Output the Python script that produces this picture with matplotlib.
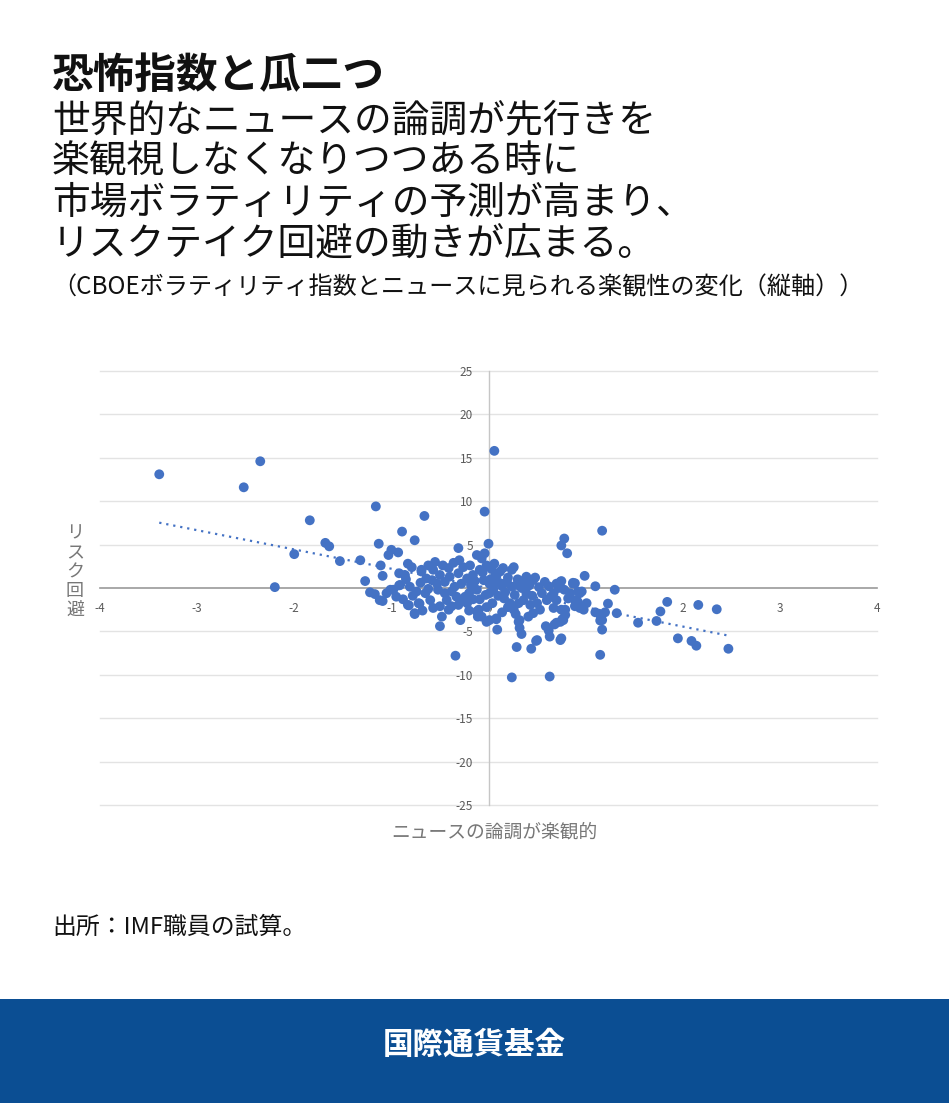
import numpy as np
import matplotlib
matplotlib.use("Agg")
import matplotlib.pyplot as plt

plt.rcParams["font.family"] = ["Noto Sans CJK JP", "DejaVu Sans"]
plt.rcParams["axes.unicode_minus"] = False

# 横軸: ニュースの論調が楽観的, 縦軸: リスク回避 (値は図から読み取り)
puntos = [
    # 外れ値・まばらな点
    (-3.39, 13.1), (-2.52, 11.6), (-2.35, 14.6), (-2.20, 0.1), (-2.00, 3.9),
    (-1.84, 7.8), (-1.68, 5.2), (-1.64, 4.8), (-1.53, 3.1), (-1.32, 3.2),
    (-1.27, 0.8), (-1.22, -0.5), (-1.17, -0.7), (-1.16, 9.4), (-1.13, 5.1),
    (-1.11, 2.6), (-1.09, 1.4), (-1.09, -1.5), (-1.03, 3.8), (-1.00, 4.4),
    (-0.93, 4.1), (-1.01, -0.2), (-0.89, 6.5), (-0.92, 1.7), (-0.86, 1.5),
    (-0.92, 0.3), (-0.82, -2.0), (-0.79, 2.4), (-0.76, 5.5), (-0.76, -3.0),
    (-0.71, -1.8), (-0.66, 8.3), (-0.69, 2.1), (-0.50, -4.4), (-0.31, 4.6),
    (-0.29, -3.7), (-0.04, 8.8), (0.00, 5.1), (-0.12, 3.8), (-0.07, 3.4),
    (-0.04, 4.0), (-0.30, 3.2), (0.06, 2.8), (0.06, 15.8),
    # 右側
    (1.17, 6.6), (0.78, 5.7), (0.75, 4.9), (0.81, 4.0), (0.26, 2.4),
    (0.24, 2.1), (0.15, 2.3), (0.12, 1.9), (0.99, 1.4), (1.10, 0.2),
    (1.30, -0.2), (0.39, 1.3), (0.48, 1.2), (0.58, 0.7), (0.74, 0.7),
    (0.87, 0.6), (1.23, -1.8), (1.10, -2.8), (1.15, -3.1), (1.20, -2.8),
    (1.15, -3.75), (1.17, -4.8), (1.15, -7.7), (1.54, -4.0), (1.73, -3.8),
    (1.77, -2.7), (1.84, -1.6), (2.16, -1.95), (2.35, -2.45), (1.95, -5.8),
    (2.09, -6.1), (2.14, -6.65), (2.47, -7.0), (0.74, -6.0), (0.77, -3.7),
    (0.79, -2.5), (0.87, 0.5), (0.92, -0.4), (0.96, -0.4), (0.89, -2.1),
    (0.98, -2.5), (0.92, -1.6),
    # 下側
    (-0.34, -7.8), (-0.02, -3.9), (0.08, -3.6), (0.09, -4.8), (0.24, -10.3),
    (0.63, -10.2), (0.29, -6.8), (0.44, -7.0), (0.49, -6.1), (0.31, -3.9),
    (0.32, -4.6), (0.34, -5.3), (0.59, -4.4), (0.62, -4.9), (0.63, -5.6),
    (0.70, -4.0), (0.76, -3.6), (-0.11, -3.3), (-0.10, -2.5), (-0.41, -2.5),
    (-0.50, -2.1),
    # 中心の密集部 (右)
    (0.08, 1.3), (0.12, 0.55), (0.19, 0.7), (0.24, 0.15), (0.29, 0.35),
    (0.34, 0.0), (0.39, -0.6), (0.36, -1.4), (0.31, -1.75), (0.22, -1.75),
    (0.26, -2.5), (0.43, -1.95), (0.50, -1.75), (0.46, -2.9), (0.41, -3.3),
    (0.53, -2.5), (0.60, -1.4), (0.67, -0.6), (0.70, -1.4), (0.67, -2.3),
    (0.75, -2.5), (0.79, -3.1), (0.74, -3.9), (0.68, -4.2), (0.08, -3.5),
    (0.32, -3.7), (0.50, -6.0), (0.75, -5.8), (0.89, 0.55), (0.84, -0.6),
    (0.94, -0.6), (0.89, -1.4), (0.94, -2.3), (1.01, -1.75), (1.17, -3.7),
    (1.32, -2.9), (0.01, 0.5), (0.01, -0.6), (0.04, -1.75), (0.01, -3.7),
    (0.46, 0.9), (0.70, 0.5), (0.75, 0.8),
    # 中心の密集部 (左)
    (-0.62, 2.6), (-0.57, 2.1), (-0.69, 1.9), (-0.64, 1.1), (-0.47, 2.6),
    (-0.41, 2.3), (-0.50, 1.5), (-0.40, 1.3), (-0.45, 0.7), (-0.53, 0.5),
    (-0.26, 2.4), (-0.31, 1.7), (-0.22, 1.1), (-0.28, 0.5), (-0.35, 0.15),
    (-0.02, 2.6), (-0.09, 2.1), (-0.16, 1.5), (-0.12, -0.2), (-0.09, -1.3),
    (-0.12, -2.7), (-0.07, -3.3), (-0.16, -1.3), (0.07, 1.5), (0.05, 0.35),
    (-1.05, -0.6), (-0.98, -0.2), (-1.12, -1.4), (-0.83, -1.95), (-0.76, -2.9),
    (-0.72, -1.75), (-0.60, -1.4), (-0.57, -2.3), (-0.91, 0.35), (-0.81, 0.15),
    (-0.74, -0.4), (-0.65, -0.6), (-0.52, -0.2), (-0.45, -0.6), (-0.38, -0.4),
    (-0.33, -1.0), (-0.28, -1.4), (-0.43, -1.4), (-0.38, -2.1), (-0.31, -1.95),
    (-0.22, -1.75), (-0.19, 2.6),
    # 重なっている点 (推定)
    (0.02, 1.0), (0.05, -0.2), (0.10, -0.9), (0.14, 0.2), (0.17, -0.5),
    (0.20, 1.2), (0.16, -1.2), (0.27, -0.8), (0.30, 1.0), (0.35, 0.8),
    (0.42, 0.3), (0.45, -0.9), (0.52, 0.1), (0.55, -0.6), (0.62, 0.2),
    (0.64, -1.0), (0.78, -0.2), (0.82, -1.2), (0.72, 0.0), (-0.05, 0.9),
    (-0.03, -0.8), (-0.18, 0.3), (-0.20, -0.6), (-0.24, -1.0), (-0.14, 0.8),
    (-0.06, 1.8), (0.03, 2.2), (0.20, -2.2), (0.14, -2.8), (0.28, -3.0),
    (-0.02, -2.2), (-0.20, -2.6), (-0.58, 0.9), (-0.70, 0.6), (-0.85, 1.0),
    (-0.78, -0.9), (-0.62, -0.1), (-0.95, -1.0), (-0.88, -1.3), (-0.68, -2.6),
    (-0.48, -3.3), (-0.55, 3.0), (-0.36, 2.9), (-0.83, 2.8),
]
optimismo = np.array([p[0] for p in puntos])
riesgo = np.array([p[1] for p in puntos])

# 近似直線
pendiente = -2.22
intercepto = 0.0

x_ticks = [-4, -3, -2, -1, 0, 1, 2, 3, 4]
y_ticks = [-25, -20, -15, -10, -5, 0, 5, 10, 15, 20, 25]

azul = "#4472C4"
W, H = 949, 1103
fig = plt.figure(figsize=(W / 100, H / 100), dpi=100)

ax = fig.add_axes([100 / W, 1 - 805 / H, 777 / W, 434 / H])
ax.set_xlim(-4, 4)
ax.set_ylim(-25, 25)
ax.set_xticks(x_ticks)
ax.set_yticks(y_ticks)
ax.set_xticklabels([str(v) for v in x_ticks])
ax.set_yticklabels([str(v) for v in y_ticks])
for yv in y_ticks:
    if yv != 0:
        ax.axhline(yv, color="#e3e3e3", lw=1, zorder=0, clip_on=False)

for lado in ["top", "right"]:
    ax.spines[lado].set_visible(False)
ax.spines["left"].set_position(("data", 0))
ax.spines["bottom"].set_position(("data", 0))
ax.spines["left"].set_color("#c6c6c6")
ax.spines["bottom"].set_color("#9a9a9a")
ax.spines["left"].set_linewidth(1)
ax.spines["bottom"].set_linewidth(1.2)
ax.tick_params(axis="both", length=0, labelsize=8.5, labelcolor="#5a5a5a")
ax.tick_params(axis="x", pad=10)
ax.tick_params(axis="y", pad=11)

ax.scatter(optimismo, riesgo, s=50, color=azul, edgecolors="none", zorder=3)
xs = np.array([optimismo.min(), optimismo.max()])
ax.plot(xs, pendiente * xs + intercepto, color=azul, lw=1.6,
        linestyle=(0, (1, 2.2)), zorder=2)


def py(v):
    return 1 - v / H


fig.text(52 / W, py(76), "恐怖指数と瓜二つ", fontsize=30, fontweight="bold",
         va="center", ha="left", color="#111111")
lineas = ["世界的なニュースの論調が先行きを",
          "楽観視しなくなりつつある時に",
          "市場ボラティリティの予測が高まり、",
          "リスクテイク回避の動きが広まる。"]
for i, t in enumerate(lineas):
    fig.text(52 / W, py(121 + 41 * i), t, fontsize=27.2, va="center",
             ha="left", color="#111111")
fig.text(52 / W, py(287), "（CBOEボラティリティ指数とニュースに見られる楽観性の変化（縦軸））",
         fontsize=17.4, va="center", ha="left", color="#111111")

fig.text(75 / W, py(572), "\n".join("リスク回避"), fontsize=13, va="center",
         ha="center", color="#777777", linespacing=1.08)
fig.text(494 / W, py(832), "ニュースの論調が楽観的", fontsize=13.5, va="center",
         ha="center", color="#777777")

fig.text(52 / W, py(927), "出所：IMF職員の試算。", fontsize=17.2, va="center",
         ha="left", color="#111111")

fig.patches.append(plt.Rectangle((0, 0), 1, 104 / H, transform=fig.transFigure,
                                 facecolor="#0B4E93", edgecolor="none"))
fig.text(0.5, py(1045), "国際通貨基金", fontsize=22, fontweight="bold",
         va="center", ha="center", color="white")

fig.savefig("out.png", dpi=100)
